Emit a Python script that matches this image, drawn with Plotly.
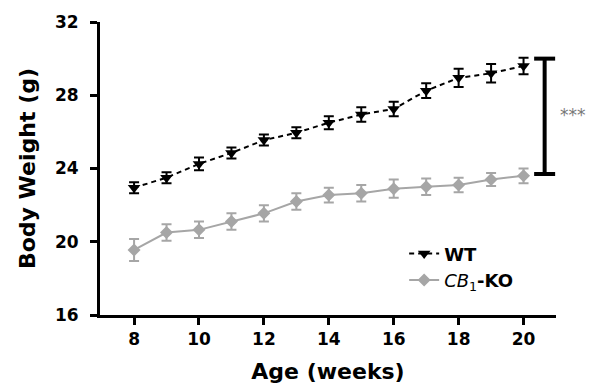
import plotly.graph_objects as go

weeks = [8, 9, 10, 11, 12, 13, 14, 15, 16, 17, 18, 19, 20]
wt_mean = [22.95, 23.5, 24.25, 24.85, 25.55, 25.95, 26.5, 26.95, 27.25, 28.25, 28.95, 29.2, 29.6]
wt_sem = [0.3, 0.3, 0.35, 0.3, 0.3, 0.3, 0.35, 0.4, 0.4, 0.4, 0.5, 0.5, 0.45]
ko_mean = [19.55, 20.5, 20.65, 21.1, 21.55, 22.2, 22.55, 22.65, 22.9, 23.0, 23.1, 23.4, 23.6]
ko_sem = [0.6, 0.45, 0.45, 0.45, 0.45, 0.45, 0.4, 0.45, 0.5, 0.45, 0.4, 0.35, 0.4]

sig_x = 20.65
sig_low = 23.7
sig_high = 30.0
sig_label = "***"

y_ticks = [16, 20, 24, 28, 32]
x_ticks = [8, 10, 12, 14, 16, 18, 20]

FONT = "DejaVu Sans"
GRAY = "#a6a6a6"

fig = go.Figure()

fig.add_trace(go.Scatter(
    x=weeks, y=wt_mean, mode="lines+markers", name="<b>WT</b>",
    line=dict(color="black", width=2, dash="5px,4px"),
    marker=dict(symbol="triangle-down", size=11, color="black"),
    error_y=dict(type="data", array=wt_sem, visible=True, color="black", thickness=2, width=5),
))
fig.add_trace(go.Scatter(
    x=weeks, y=ko_mean, mode="lines+markers", name="<i>CB</i><sub>1</sub><b>-KO</b>",
    line=dict(color=GRAY, width=2),
    marker=dict(symbol="diamond", size=10, color=GRAY),
    error_y=dict(type="data", array=ko_sem, visible=True, color=GRAY, thickness=2, width=5),
))
# significance bar
fig.add_trace(go.Scatter(
    x=[sig_x, sig_x], y=[sig_low, sig_high], mode="lines+markers", showlegend=False,
    line=dict(color="black", width=4),
    marker=dict(symbol="line-ew", size=15, line=dict(color="black", width=4)),
    hoverinfo="skip",
))
fig.add_annotation(x=sig_x, y=(sig_low + sig_high) / 2, xref="x", yref="y",
                   text=sig_label, showarrow=False, xanchor="left", xshift=13, yshift=1,
                   font=dict(family=FONT, size=17, color="#777777"))

fig.update_layout(
    width=605, height=392,
    margin=dict(l=100, r=49, t=22, b=77),
    paper_bgcolor="white", plot_bgcolor="white",
    showlegend=True,
    legend=dict(x=0.667, y=0.272, xanchor="left", yanchor="top",
                font=dict(family=FONT, size=18, color="black"),
                bgcolor="rgba(0,0,0,0)", tracegroupgap=0, itemwidth=30),
)
fig.update_xaxes(
    range=[6.95, 21.0], tickvals=x_ticks, ticktext=[str(v) for v in x_ticks],
    showline=True, linecolor="black", linewidth=3, showgrid=False, zeroline=False,
    ticks="outside", ticklen=7, tickwidth=3, tickcolor="black",
    tickfont=dict(family=FONT, size=17, color="black", weight="bold"),
    title=dict(text="Age (weeks)", standoff=16,
               font=dict(family=FONT, size=22, color="black", weight="bold")),
)
fig.update_yaxes(
    range=[16, 32], tickvals=y_ticks, ticktext=[str(v) for v in y_ticks],
    showline=True, linecolor="black", linewidth=3, showgrid=False, zeroline=False,
    ticks="outside", ticklen=7, tickwidth=3, tickcolor="black", ticklabelstandoff=8,
    tickfont=dict(family=FONT, size=17, color="black", weight="bold"),
    title=dict(text="Body Weight (g)", standoff=14,
               font=dict(family=FONT, size=22, color="black", weight="bold")),
)

fig.write_html("out.html")
